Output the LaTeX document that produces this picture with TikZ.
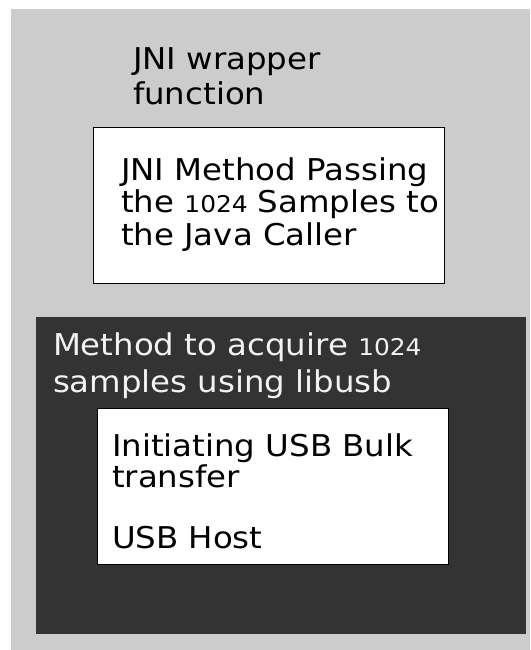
\documentclass[tikz,border=0pt]{standalone}
\usepackage{fontspec}
\setmainfont[FakeStretch=1.08]{DejaVu Sans}
\definecolor{bggray}{HTML}{CCCCCC}
\definecolor{darkbg}{HTML}{333333}
\definecolor{lighttext}{HTML}{F2F2F2}
\newcommand{\smalldigits}[1]{{\fontsize{23}{23}\selectfont #1}}
\tikzset{
  panel/.style={draw=none, anchor=north west, inner sep=0pt, outer sep=0pt},
  whitebox/.style={draw=black, line width=1.4pt, fill=white, anchor=north west, inner sep=0pt},
  label/.style={anchor=base west, inner sep=0pt, outer sep=0pt, align=left}
}
\begin{document}
\begin{tikzpicture}[x=1pt,y=-1pt]
\useasboundingbox (0,0) rectangle (530,650);
\fill[white] (0,0) rectangle (530,650);
% outer gray panel
\node[panel, fill=bggray, minimum width=519pt, minimum height=641pt] (outer) at (11,9) {};
% title
\node[label, font={\fontsize{30}{35}\selectfont}] (title) at (133,105) {JNI wrapper\\function};
% JNI box
\node[whitebox, minimum width=351pt, minimum height=156pt] (jnibox) at (93,127) {};
\node[label, font={\fontsize{30}{32.5}\selectfont}] (jnitext) at (121,245) {JNI Method Passing\\the \smalldigits{1024} Samples to\\the Java Caller};
% dark panel
\node[panel, fill=darkbg, minimum width=490pt, minimum height=317pt] (dark) at (36,317) {};
\node[label, text=lighttext, font={\fontsize{30}{37}\selectfont}] (darktitle) at (53,392) {Method to acquire \smalldigits{1024}\\samples using libusb};
% USB box
\node[whitebox, minimum width=351pt, minimum height=156pt] (usbbox) at (97,408) {};
\node[label, font={\fontsize{30}{30.5}\selectfont}] (usbtext) at (112,548) {Initiating USB Bulk\\transfer\\[30.5pt]USB Host};
\end{tikzpicture}
\end{document}
